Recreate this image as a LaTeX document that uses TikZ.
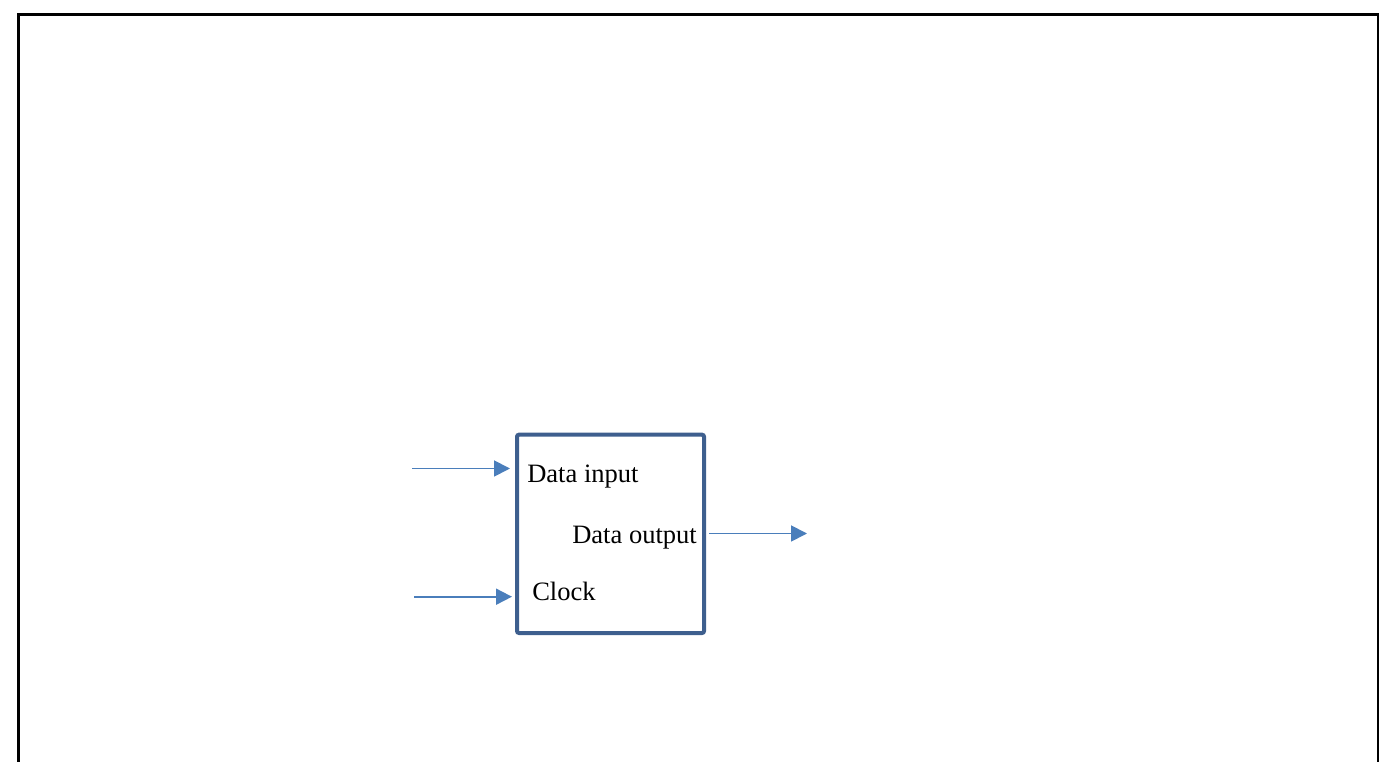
\documentclass[tikz,border=0pt]{standalone}
\usepackage{fontspec}
\setmainfont{Liberation Serif}
\usetikzlibrary{arrows.meta}
\definecolor{boxblue}{HTML}{3E5F8E}
\definecolor{arrblue}{HTML}{4A7EBB}
\tikzset{
  frameline/.style={draw=black, line width=1.6pt},
  block/.style={draw=boxblue, line width=3pt, rounded corners=1.5pt},
  sig/.style={draw=arrblue, line width=1.4pt, -{Triangle[length=12pt,width=12pt]}},
  lbl/.style={inner sep=0pt, anchor=base west, font=\fontsize{19.9pt}{24pt}\selectfont}
}
\begin{document}
\begin{tikzpicture}[x=0.75pt,y=-0.75pt]
\useasboundingbox (0,0) rectangle (1382,762);
\coordinate (fbl) at (18.5,762);
\coordinate (ftl) at (18.5,14.5);
\coordinate (ftr) at (1378,14.5);
\coordinate (fbr) at (1378,762);
\draw[frameline] (fbl) -- (ftl) -- (ftr) -- (fbr);
\draw[block] (517,434.7) rectangle (704,633);
\node[lbl] (din) at (527,482.5) {Data input};
\node[lbl] (dout) at (572,544) {Data output};
\node[lbl] (clk) at (532,601) {Clock};
\coordinate (a1s) at (412,468.5);
\coordinate (a1e) at (510,468.5);
\coordinate (a2s) at (414,596.7);
\coordinate (a2e) at (512,596.7);
\coordinate (a3s) at (709,533.5);
\coordinate (a3e) at (807,533.5);
\draw[sig] (a1s) -- (a1e);
\draw[sig] (a2s) -- (a2e);
\draw[sig] (a3s) -- (a3e);
\end{tikzpicture}
\end{document}
